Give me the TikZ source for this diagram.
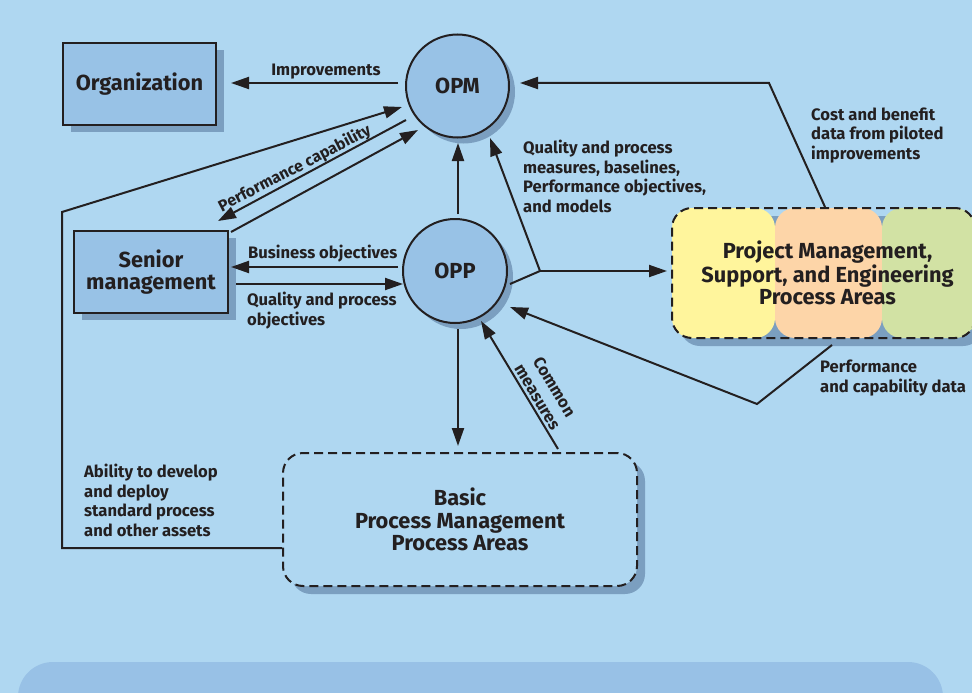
\documentclass[tikz,border=0pt]{standalone}
\usepackage{fontspec}
\setmainfont{Fira Sans}
\usetikzlibrary{arrows.meta,shadows,calc}
\definecolor{bgblue}{HTML}{AFD7F1}
\definecolor{nodefill}{HTML}{98C2E6}
\definecolor{shadowc}{HTML}{7B9FC0}
\definecolor{inkc}{HTML}{231F20}
\definecolor{panelc}{HTML}{98C1E6}
\definecolor{pmyellow}{HTML}{FFF59C}
\definecolor{pmorange}{HTML}{FDD5A8}
\definecolor{pmgreen}{HTML}{D2E2A4}
\begin{document}
\begin{tikzpicture}[x=1pt,y=-1pt,
  wire/.style={draw=inkc,line width=2pt,line join=miter},
  arr/.style={wire,-{Triangle[length=18pt,width=12pt]}},
  lbl/.style={font=\fontsize{16.6}{19.5}\selectfont\bfseries,text=inkc,inner sep=0pt},
  mainfont/.style={font=\fontsize{21.8}{22.5}\selectfont\bfseries,text=inkc,align=center},
  boxnode/.style={mainfont,rectangle,draw=inkc,line width=2pt,fill=nodefill,inner sep=0pt,
    minimum width=153pt,minimum height=82pt,
    drop shadow={shadow xshift=8pt,shadow yshift=-7pt,fill=shadowc,opacity=1}},
  circnode/.style={mainfont,circle,draw=inkc,line width=2pt,fill=nodefill,inner sep=0pt,
    minimum size=103pt,
    drop shadow={shadow xshift=6pt,shadow yshift=-6pt,fill=shadowc,opacity=1}},
  areabox/.style={mainfont,rectangle,rounded corners=20pt,draw=inkc,line width=2pt,
    dash pattern=on 9pt off 5pt,inner sep=0pt,
    drop shadow={shadow xshift=8pt,shadow yshift=-8pt,fill=shadowc,opacity=1}}
]
\useasboundingbox (0,0) rectangle (972,693);
\clip (0,0) rectangle (972,693);
\fill[bgblue] (0,0) rectangle (972,693);
% lower panel
\fill[panelc,rounded corners=35pt] (18,662) rectangle (943,760);

% main nodes
\node[boxnode] (org) at (139.5,84) {Organization};
\node[boxnode,minimum width=154pt] (senior) at (151,272) {Senior\\management};
\node[circnode] (opm) at (457.5,86) {OPM};
\node[circnode,minimum size=104pt] (opp) at (455,271) {OPP};
\node[areabox,minimum width=303pt,minimum height=130pt,
  path picture={
    \fill[pmyellow] (path picture bounding box.south west) rectangle ([xshift=103pt]path picture bounding box.north west);
    \fill[pmorange] ([xshift=103pt]path picture bounding box.south west) rectangle ([xshift=210pt]path picture bounding box.north west);
    \fill[pmgreen] ([xshift=210pt]path picture bounding box.south west) rectangle (path picture bounding box.north east);
  }] (pm) at (823.5,273) {\hspace*{8pt}Project Management,\\\hspace*{8pt}Support, and Engineering\\\hspace*{8pt}Process Areas};
\node[areabox,fill=bgblue,minimum width=354pt,minimum height=133pt] (basic) at (460,519.5)
  {Basic\\Process Management\\Process Areas};

% connectors
\draw[arr] ($(opm)+(-59.5,-3)$) -- ($(org.east)+(14,-1)$);
\draw[arr] ($(basic.west)+(0,28.5)$) -| ($(org.west)+(0,128)$) -- ($(opm)+(-55.5,21)$);
\draw[arr] ($(opm)+(-51.5,34)$) -- ($(senior.north east)+(-11,-9)$);
\draw[arr] ($(senior.north east)+(2,2)$) -- ($(opm)+(-39.5,44)$);
\draw[arr] ($(opp)+(3,-57)$) -- ($(opm)+(0.5,57)$);
\coordinate (fork) at ($(opp)+(85,0)$);
\draw[wire] ($(opp)+(55,13)$) -- (fork);
\draw[arr] (fork) -- ($(opm)+(32.5,52)$);
\draw[arr] (fork) -- ($(pm.west)+(-4,-2)$);
\draw[arr] ($(pm.north)+(1.5,0)$) -- ($(opm)+(311.5,-3)$) -- ($(opm)+(62.5,-3)$);
\draw[arr] ($(opp)+(-57,-4)$) -- ($(senior.east)+(2,-5)$);
\draw[arr] ($(senior.east)+(7,12)$) -- ($(opp)+(-52,13)$);
\draw[arr] ($(opp)+(3,58)$) -- ($(basic.north)+(-2,-6)$);
\draw[arr] ($(basic.north)+(98,-3)$) -- ($(opp)+(26,50)$);
\draw[arr] ($(pm.south)+(8.5,6)$) -- ($(pm.south)+(-66.5,65)$) -- ($(opp)+(55,36)$);

% connector labels (multi-line labels are placed by the baseline of their last line)
\node[lbl,anchor=base] (lImp) at (326,76) {Improvements};
\node[lbl,font=\fontsize{16}{19}\selectfont\bfseries,rotate=27.5,anchor=base] (lPerf) at (297,173) {Performance capability};
\node[lbl,anchor=base west] (lBus) at (248,258) {Business objectives};
\node[lbl,anchor=base west,align=left] (lQPO) at (247,325) {Quality and process\\objectives};
\node[lbl,anchor=base west,align=left] (lQPM) at (523,212) {Quality and process\\measures, baselines,\\Performance objectives,\\and models};
\node[lbl,anchor=base west,align=left] (lCost) at (811,159) {Cost and benefit\\data from piloted\\improvements};
\node[lbl,anchor=base west,align=left] (lPCD) at (820,392) {Performance\\and capability data};
\node[lbl,anchor=base west,align=left] (lAbil) at (84,536) {Ability to develop\\and deploy\\standard process\\and other assets};
\node[lbl,rotate=-59,align=center] (lCom) at (546,392) {Common\\measures};
\end{tikzpicture}
\end{document}
